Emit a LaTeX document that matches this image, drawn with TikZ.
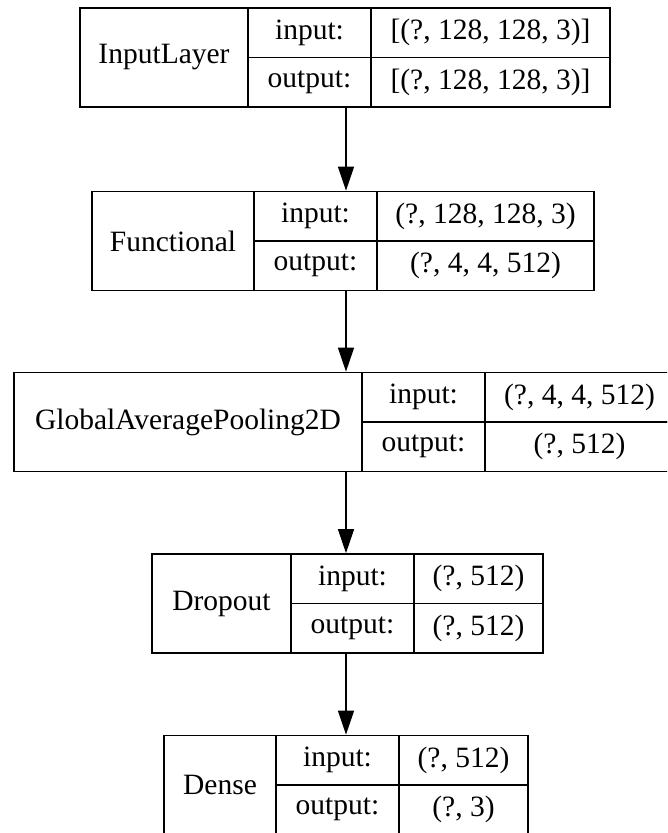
\documentclass[tikz,border=0pt]{standalone}
\usepackage{fontspec}
\setmainfont{Liberation Serif}
\usetikzlibrary{arrows.meta,fit}

\begin{document}
\begin{tikzpicture}[
  x=1pt, y=-1pt,
  cell/.style={rectangle, draw, line width=1.3pt, inner sep=0pt, minimum height=49.5pt,
    font=\rmfamily\fontsize{29.5}{35}\selectfont},
  namecell/.style={cell, minimum height=99pt},
  keycell/.style={cell, minimum width=123pt},
  tbl/.style={rectangle, inner sep=0pt, fit=#1},
  flow/.style={line width=1.3pt, -{Triangle[length=24pt, width=16pt]}},
]
  \clip (0,0) rectangle (667,833);
  \useasboundingbox (0,0) rectangle (667,833);

  \node[namecell, minimum width=168pt] (inl) at (164, 57.5) {InputLayer};
  \node[keycell] (inlin) at (309.5, 32.75) {input:};
  \node[keycell] (inlout) at (309.5, 82.25) {output:};
  \node[cell, minimum width=239pt] (inlinv) at (490.5, 32.75) {[(?, 128, 128, 3)]};
  \node[cell, minimum width=239pt] (inloutv) at (490.5, 82.25) {[(?, 128, 128, 3)]};
  \node[tbl={(inl)(inloutv)(inlinv)}] (inltab) {};

  \node[namecell, minimum width=162pt] (fun) at (173, 241) {Functional};
  \node[keycell] (funin) at (315.5, 216.25) {input:};
  \node[keycell] (funout) at (315.5, 265.75) {output:};
  \node[cell, minimum width=217pt] (funinv) at (485.5, 216.25) {(?, 128, 128, 3)};
  \node[cell, minimum width=217pt] (funoutv) at (485.5, 265.75) {(?, 4, 4, 512)};
  \node[tbl={(fun)(funinv)(funoutv)}] (funtab) {};

  \node[namecell, minimum width=348pt] (gap) at (188, 422) {GlobalAveragePooling2D};
  \node[keycell] (gapin) at (423.5, 397.25) {input:};
  \node[keycell] (gapout) at (423.5, 446.75) {output:};
  \node[cell, minimum width=189pt] (gapinv) at (579.5, 397.25) {(?, 4, 4, 512)};
  \node[cell, minimum width=189pt] (gapoutv) at (579.5, 446.75) {(?, 512)};
  \node[tbl={(gap)(gapinv)(gapoutv)}] (gaptab) {};

  \node[namecell, minimum width=139pt] (drop) at (221.5, 603.5) {Dropout};
  \node[keycell] (dropin) at (352.5, 578.75) {input:};
  \node[keycell] (dropout) at (352.5, 628.25) {output:};
  \node[cell, minimum width=129pt] (dropinv) at (478.5, 578.75) {(?, 512)};
  \node[cell, minimum width=129pt] (dropoutv) at (478.5, 628.25) {(?, 512)};
  \node[tbl={(drop)(dropinv)(dropoutv)}] (droptab) {};

  \node[namecell, minimum width=112pt] (dense) at (220, 785) {Dense};
  \node[keycell] (densein) at (337.5, 760.25) {input:};
  \node[keycell] (denseout) at (337.5, 809.75) {output:};
  \node[cell, minimum width=129pt] (denseinv) at (463.5, 760.25) {(?, 512)};
  \node[cell, minimum width=129pt] (denseoutv) at (463.5, 809.75) {(?, 3)};
  \node[tbl={(dense)(denseinv)(denseoutv)}] (densetab) {};

  % all connectors run down one vertical
  \coordinate (axis) at (346, 0);
  \draw[flow] (inltab.south -| axis) -- (funtab.north -| axis);
  \draw[flow] (funtab.south -| axis) -- (gaptab.north -| axis);
  \draw[flow] (gaptab.south -| axis) -- (droptab.north -| axis);
  \draw[flow] (droptab.south -| axis) -- (densetab.north -| axis);
\end{tikzpicture}
\end{document}
